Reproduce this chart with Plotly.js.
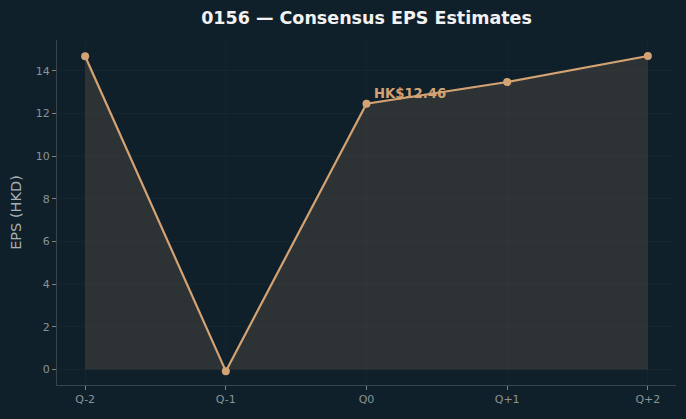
<!DOCTYPE html>
<html>
<head>
<meta charset="utf-8">
<script src="https://cdn.plot.ly/plotly-3.0.1.min.js"></script>
<style>html,body{margin:0;padding:0;background:#10202a;}#chart{width:686px;height:419px;}</style>
</head>
<body>
<div id="chart"></div>
<script>
const categories = ["Q-2", "Q-1", "Q0", "Q+1", "Q+2"];
const epsValues = [14.69, -0.08, 12.46, 13.48, 14.70];
const yTicks = [0, 2, 4, 6, 8, 10, 12, 14];
const annotationLabel = "HK$12.46";
const annotationIndex = 2;

const xIdx = categories.map((_, i) => i);

const trace = {
  x: xIdx,
  y: epsValues,
  type: "scatter",
  mode: "lines+markers",
  line: {color: "#d4a373", width: 2.2},
  marker: {color: "#d4a373", size: 8},
  fill: "tozeroy",
  fillcolor: "rgba(212,163,115,0.15)",
  hoverinfo: "skip"
};

const layout = {
  width: 686,
  height: 419,
  paper_bgcolor: "#10202a",
  plot_bgcolor: "#10202a",
  margin: {l: 57, r: 10, t: 40, b: 34},
  showlegend: false,
  title: {
    text: "<b>0156 — Consensus EPS Estimates</b>",
    font: {family: "DejaVu Sans", size: 17.5, color: "#f2f2f2"},
    xref: "paper", x: 0.5, xanchor: "center",
    yref: "container", y: 1 - 18 / 419, yanchor: "middle"
  },
  xaxis: {
    range: [-0.2, 4.2],
    tickvals: xIdx,
    ticktext: categories,
    showgrid: true,
    gridcolor: "rgba(255,255,255,0.025)",
    zeroline: false,
    showline: true,
    linecolor: "#3a4449",
    linewidth: 1,
    ticks: "outside",
    ticklen: 4,
    tickcolor: "#7a8388",
    tickfont: {family: "DejaVu Sans", size: 11, color: "#8a9398"},
    fixedrange: true
  },
  yaxis: {
    range: [-0.73, 15.45],
    tickvals: yTicks,
    showgrid: true,
    gridcolor: "rgba(255,255,255,0.025)",
    zeroline: false,
    showline: true,
    linecolor: "#3a4449",
    linewidth: 1,
    ticks: "outside",
    ticklen: 4,
    tickcolor: "#7a8388",
    tickfont: {family: "DejaVu Sans", size: 11, color: "#8a9398"},
    title: {text: "EPS (HKD)", font: {family: "DejaVu Sans", size: 14.5, color: "#a9b0b4"}, standoff: 10},
    fixedrange: true
  },
  annotations: [{
    x: annotationIndex,
    y: epsValues[annotationIndex],
    xref: "x", yref: "y",
    text: "<b>" + annotationLabel + "</b>",
    showarrow: false,
    xanchor: "left",
    yanchor: "bottom",
    xshift: 5,
    yshift: 1,
    font: {family: "DejaVu Sans", size: 13.2, color: "#d4a373"}
  }]
};

Plotly.newPlot("chart", [trace], layout, {displayModeBar: false, staticPlot: true});
</script>
</body>
</html>
